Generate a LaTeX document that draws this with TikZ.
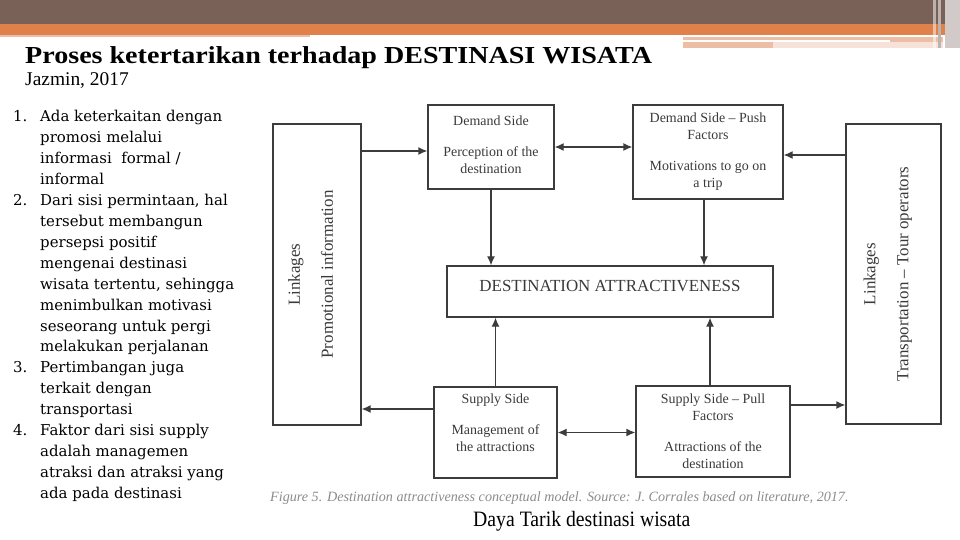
\documentclass[tikz,border=0pt]{standalone}
\usepackage{fontspec}
\setmainfont{Liberation Serif}
\newfontfamily\listfont{DejaVu Serif}
\usetikzlibrary{arrows.meta,positioning,calc}

\definecolor{headbrown}{RGB}{122,97,88}
\definecolor{headorange}{RGB}{224,128,74}
\definecolor{headpeach}{RGB}{236,190,166}
\definecolor{headpale}{RGB}{246,226,216}
\definecolor{stripegrey}{RGB}{210,202,200}
\definecolor{boxline}{RGB}{60,60,60}
\definecolor{boxtext}{RGB}{58,58,58}
\definecolor{captiongrey}{RGB}{140,140,140}

\begin{document}
\begin{tikzpicture}[
				x=1bp,y=-1bp,
				>={Latex[length=9bp,width=8bp]},
				box/.style={
					rectangle,
					draw=boxline,
					line width=1.3bp,
					align=center,
					text=boxtext,
					inner sep=0pt,
					font=\fontsize{14}{17}\selectfont
				},
				sidebox/.style={
					box,
					rotate=90,
					font=\fontsize{17}{20}\selectfont
				},
				link/.style={
					->,
					draw=boxline,
					line width=1.3bp
				}
				]
				
				\useasboundingbox (0,0) rectangle (960,540);
				\fill[white] (0,0) rectangle (960,540);
				
				% -------------------------------------------------------------------------
				% Slide header bands
				% -------------------------------------------------------------------------
				
				\fill[headbrown] (0,0) rectangle (960,24);
				\fill[headorange] (0,24) rectangle (960,35);
				\fill[headpeach] (0,35) rectangle (310,37.5);
				\fill[headpeach] (683,37) rectangle (943,48);
				\fill[headpale] (773,42) rectangle (943,48);
				\fill[white] (683,40) rectangle (890,42);
				\fill[stripegrey] (945,0) rectangle (960,48);
				\fill[white,opacity=0.5] (933,0) rectangle (936,48);
				\fill[stripegrey!70!gray] (938,0) rectangle (941,48);
				
				% -------------------------------------------------------------------------
				% Title and list
				% -------------------------------------------------------------------------
				
				\node[anchor=base west,inner sep=0pt,font=\bfseries\fontsize{24.5}{28}\selectfont] (TITLE) at (25,64)
				{\scalebox{1.15}[1]{Proses ketertarikan terhadap DESTINASI WISATA}};
				
				\node[anchor=base west,inner sep=0pt,font=\fontsize{19.5}{22}\selectfont] (AUTHOR) at (25,86)
				{Jazmin, 2017};
				
				\node[anchor=north west,inner sep=0pt,font=\listfont\fontsize{15}{21}\selectfont] (LIST) at (13,107)
				{\begin{tabular}{@{}p{27bp}@{}l@{}}
						1. & Ada keterkaitan dengan\\
						   & promosi melalui\\
						   & informasi\ \ formal /\\
						   & informal\\
						2. & Dari sisi permintaan, hal\\
						   & tersebut membangun\\
						   & persepsi positif\\
						   & mengenai destinasi\\
						   & wisata tertentu, sehingga\\
						   & menimbulkan motivasi\\
						   & seseorang untuk pergi\\
						   & melakukan perjalanan\\
						3. & Pertimbangan juga\\
						   & terkait dengan\\
						   & transportasi\\
						4. & Faktor dari sisi supply\\
						   & adalah managemen\\
						   & atraksi dan atraksi yang\\
						   & ada pada destinasi
				\end{tabular}};
				
				% -------------------------------------------------------------------------
				% Model boxes (rules at line ends lift the text a little)
				% -------------------------------------------------------------------------
				
				\node[sidebox,minimum width=301bp,minimum height=88bp] (LP) at (317,274.5)
				{Linkages\\[13bp]Promotional information\rule[-13bp]{0pt}{0pt}};
				
				\node[box,minimum width=126bp,minimum height=84bp] (DS) at (491,147)
				{Demand Side\\[14bp]Perception of the\\destination\rule[-5bp]{0pt}{0pt}};
				
				\node[box,minimum width=150bp,minimum height=94bp] (PF) at (708,152)
				{Demand Side -- Push\\Factors\\[14bp]Motivations to go on\\a trip};
				
				\node[sidebox,minimum width=300bp,minimum height=95bp] (RT) at (893.5,274)
				{Linkages\\[13bp]Transportation -- Tour operators\rule[-15bp]{0pt}{0pt}};
				
				\node[box,minimum width=326bp,minimum height=51bp,font=\fontsize{17}{20}\selectfont] (DA) at (610,291.5)
				{DESTINATION ATTRACTIVENESS\rule[-12bp]{0pt}{0pt}};
				
				\node[box,minimum width=123bp,minimum height=91bp] (SS) at (495.5,432.5)
				{Supply Side\\[14bp]Management of\\the attractions\rule[-19bp]{0pt}{0pt}};
				
				\node[box,minimum width=154bp,minimum height=91bp] (PL) at (713,431.5)
				{Supply Side -- Pull\\Factors\\[14bp]Attractions of the\\destination};
				
				% -------------------------------------------------------------------------
				% Arrows
				% -------------------------------------------------------------------------
				
				\coordinate (DSin) at ([yshift=-4bp]DS.west);
				\coordinate (PFin) at ([yshift=-3bp]PF.east);
				\coordinate (PFout) at ([xshift=-4bp]PF.south);
				\coordinate (PLup) at ([xshift=-3bp]PL.north);
				\coordinate (SSout) at ([yshift=23.5bp]SS.west);
				\coordinate (PLout) at ([yshift=26.5bp]PL.east);
				
				\draw[link] (DSin -| LP.south) -- (DSin);
				\draw[link,<->] (DS.east) -- (DS.east -| PF.west);
				\draw[link] (PFin -| RT.north) -- (PFin);
				
				\draw[link] (DS.south) -- (DS.south |- DA.north);
				\draw[link] (PFout) -- (PFout |- DA.north);
				\draw[link] (SS.north) -- (SS.north |- DA.south);
				\draw[link] (PLup) -- (PLup |- DA.south);
				
				\draw[link] (SSout) -- (SSout -| LP.south);
				\draw[link,<->] (SS.east) -- (SS.east -| PL.west);
				\draw[link] (PLout) -- (PLout -| RT.north);
				
				% -------------------------------------------------------------------------
				% Captions
				% -------------------------------------------------------------------------
				
				\node[anchor=base west,inner sep=0pt,text=captiongrey,font=\itshape\fontsize{14.2}{17}\selectfont] (FIG) at (270,501)
				{Figure 5. Destination attractiveness conceptual model. Source: J. Corrales based on literature, 2017.};
				
				\node[anchor=base west,inner sep=0pt,font=\fontsize{22}{26}\selectfont] (DAYA) at (473,526)
				{\scalebox{0.9}[1]{Daya Tarik destinasi wisata}};
				
		\end{tikzpicture}
\end{document}
